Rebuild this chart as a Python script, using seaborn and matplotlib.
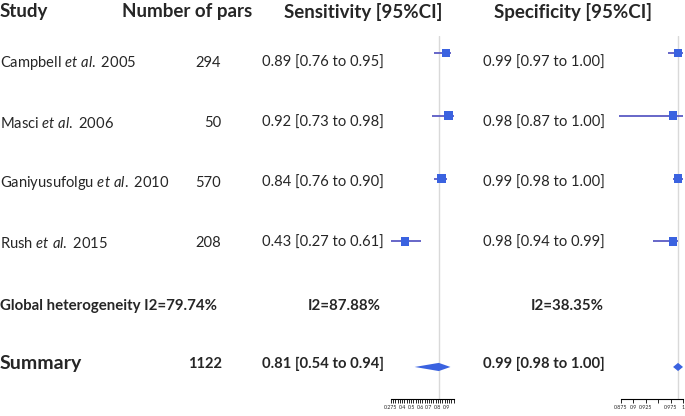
import numpy as np
import pandas as pd
import matplotlib
matplotlib.use("Agg")
import matplotlib.pyplot as plt
import seaborn as sns

# study level data
studies = ["Campbell $\\mathit{et\\ al.}$ 2005", "Masci $\\mathit{et\\ al.}$ 2006",
           "Ganiyusufolgu $\\mathit{et\\ al.}$ 2010", "Rush $\\mathit{et\\ al.}$ 2015"]
n_pars = [294, 50, 570, 208]
sens = [0.89, 0.92, 0.84, 0.43]
sens_lo = [0.76, 0.73, 0.76, 0.27]
sens_hi = [0.95, 0.98, 0.90, 0.61]
spec = [0.99, 0.98, 0.99, 0.98]
spec_lo = [0.97, 0.87, 0.98, 0.94]
spec_hi = [1.00, 1.00, 1.00, 0.99]

# pooled results
total_pars = 1122
sens_sum = [0.81, 0.54, 0.94]
spec_sum = [0.99, 0.98, 1.00]
i2_pars = 79.74
i2_sens = 87.88
i2_spec = 38.35

sens_ticks = [0.275, 0.4, 0.5, 0.6, 0.7, 0.8, 0.9]
spec_ticks = [0.875, 0.9, 0.925, 0.95, 0.975, 1.0]
spec_ticklabels = ["0.875", "0.9", "0.925", "", "0.975", "1"]

sns.set_style("white")
plt.rcParams["font.family"] = ["Lato", "DejaVu Sans"]
plt.rcParams["mathtext.fontset"] = "custom"
plt.rcParams["mathtext.rm"] = "Lato"
plt.rcParams["mathtext.it"] = "Lato:italic"

W, H = 685, 416
fig = plt.figure(figsize=(W / 100, H / 100), dpi=100)

def px(x, y):
    return x / W, 1 - y / H

mark_col = "#3a62e0"
line_col = "#5a5ac4"
body = 10.6
head = 13.5

# header
fig.text(*px(0, 12), "Study", fontsize=head, fontweight="bold", va="center")
fig.text(*px(252, 12), "Number of pars", fontsize=head, fontweight="bold", va="center", ha="right")
fig.text(*px(363, 12), "Sensitivity [95%CI]", fontsize=head, fontweight="bold", va="center", ha="center")
fig.text(*px(573, 12), "Specificity [95%CI]", fontsize=head, fontweight="bold", va="center", ha="center")

# study rows
for i in range(len(studies)):
    y = 63 + 60 * i
    fig.text(*px(0, y), studies[i], fontsize=body, va="center")
    fig.text(*px(221, y), str(n_pars[i]), fontsize=body, va="center", ha="right")
    fig.text(*px(262, y), f"{sens[i]:.2f} [{sens_lo[i]:.2f} to {sens_hi[i]:.2f}]", fontsize=body, va="center")
    fig.text(*px(483, y), f"{spec[i]:.2f} [{spec_lo[i]:.2f} to {spec_hi[i]:.2f}]", fontsize=body, va="center")

# heterogeneity row
fig.text(*px(0, 306), f"Global heterogeneity I2={i2_pars:.2f}%", fontsize=10.8, fontweight="bold", va="center")
fig.text(*px(381, 306), f"I2={i2_sens:.2f}%", fontsize=10.8, fontweight="bold", va="center", ha="right")
fig.text(*px(604, 306), f"I2={i2_spec:.2f}%", fontsize=10.8, fontweight="bold", va="center", ha="right")

# summary row
fig.text(*px(0, 364), "Summary", fontsize=14, fontweight="bold", va="center")
fig.text(*px(222, 364), str(total_pars), fontsize=body, fontweight="bold", va="center", ha="right")
fig.text(*px(262, 364), f"{sens_sum[0]:.2f} [{sens_sum[1]:.2f} to {sens_sum[2]:.2f}]",
         fontsize=body, fontweight="bold", va="center")
fig.text(*px(483, 364), f"{spec_sum[0]:.2f} [{spec_sum[1]:.2f} to {spec_sum[2]:.2f}]",
         fontsize=body, fontweight="bold", va="center")

def forest(ax, est, lo, hi, summ, xlim, ticks, ticklabels, minor=None):
    rows = np.arange(len(est))
    df = pd.DataFrame({"est": est, "row": rows})
    ax.axvline(summ[0], color="#d9d9d9", lw=1, zorder=0)
    ax.hlines(rows, lo, hi, color=line_col, lw=1.3, clip_on=False, zorder=2)
    sns.scatterplot(data=df, x="est", y="row", marker="s", s=38, color=mark_col,
                    edgecolor="none", ax=ax, zorder=3, clip_on=False, legend=False)
    ys = 5
    dx = [summ[1], summ[0], summ[2], summ[0]]
    dy = [ys, ys - 0.065, ys, ys + 0.065]
    ax.fill(dx, dy, color=mark_col, lw=0, clip_on=False)
    ax.set_xlim(*xlim)
    ax.set_ylim(5.51, -0.27)
    ax.set_yticks([])
    ax.set_xticks(ticks)
    ax.set_xticklabels(ticklabels)
    if minor is not None:
        ax.set_xticks(minor, minor=True)
    ax.tick_params(axis="x", which="both", bottom=True, length=3, width=0.6,
                   labelsize=3.8, pad=1.5, color="black")
    ax.set_xlabel("")
    ax.set_ylabel("")
    for s in ["top", "left", "right"]:
        ax.spines[s].set_visible(False)
    ax.spines["bottom"].set_linewidth(0.8)
    ax.spines["bottom"].set_color("black")
    ax.patch.set_alpha(0)

ax1 = fig.add_axes([391 / W, 1 - 399 / H, 63 / W, 363 / H])
forest(ax1, sens, sens_lo, sens_hi, sens_sum, (0.275, 0.98), sens_ticks,
       [str(t) for t in sens_ticks], minor=np.arange(0.275, 0.99, 0.025))

ax2 = fig.add_axes([621 / W, 1 - 399 / H, 62 / W, 363 / H])
forest(ax2, spec, spec_lo, spec_hi, spec_sum, (0.875, 1.0), spec_ticks, spec_ticklabels)

fig.savefig("out.png", dpi=100)
